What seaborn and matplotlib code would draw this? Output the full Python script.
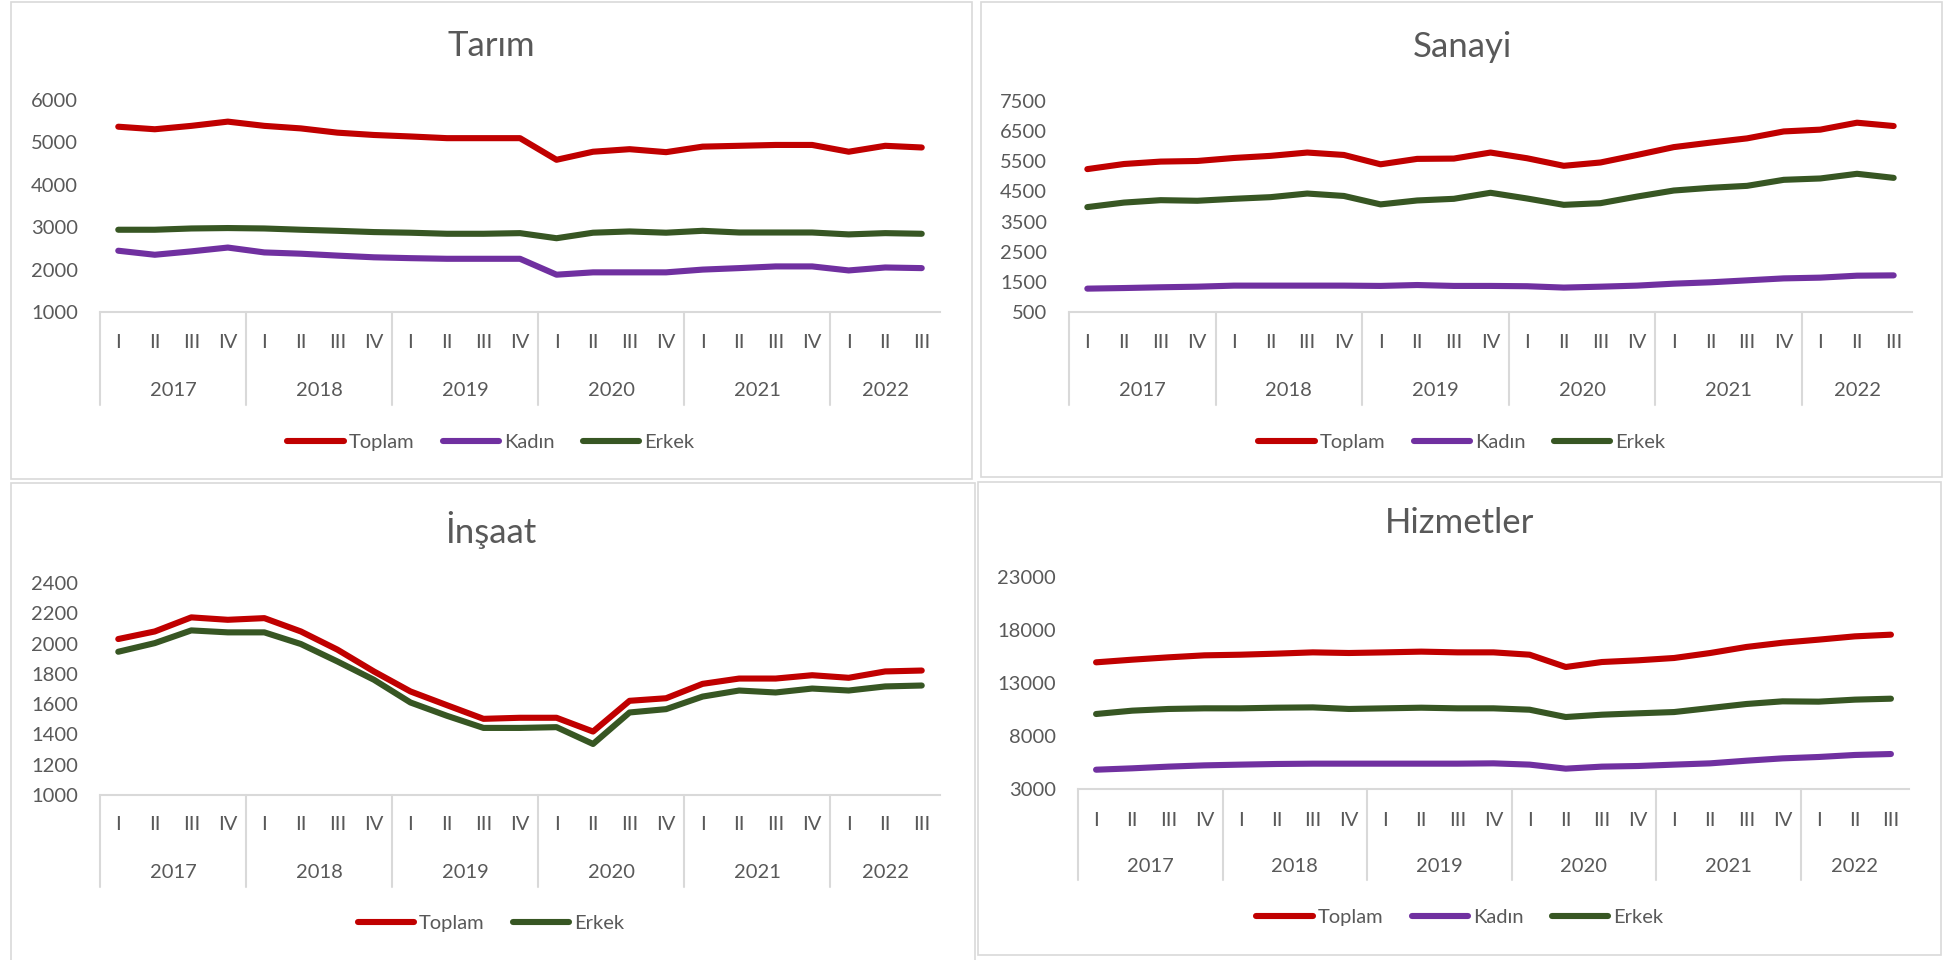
import numpy as np
import pandas as pd
import matplotlib
matplotlib.use("Agg")
import matplotlib.pyplot as plt
import matplotlib.transforms as mtransforms
from matplotlib.patches import Rectangle
import seaborn as sns

# ceyrekler ve yillar
ceyrek = ["I", "II", "III", "IV"] * 5 + ["I", "II", "III"]
yillar = ["2017", "2018", "2019", "2020", "2021", "2022"]

# Tarim
tarim_toplam = [5370, 5310, 5390, 5490, 5390, 5330, 5230, 5175, 5140, 5100, 5100, 5100,
                4590, 4780, 4840, 4770, 4900, 4920, 4940, 4940, 4780, 4920, 4880]
tarim_kadin = [2445, 2350, 2430, 2520, 2405, 2375, 2330, 2290, 2270, 2255, 2255, 2255,
               1880, 1935, 1935, 1935, 2000, 2035, 2075, 2075, 1980, 2050, 2035]
tarim_erkek = [2940, 2940, 2970, 2980, 2970, 2940, 2915, 2885, 2870, 2845, 2845, 2860,
               2740, 2870, 2900, 2870, 2915, 2875, 2875, 2875, 2830, 2860, 2845]

# Sanayi
sanayi_toplam = [5240, 5410, 5490, 5510, 5610, 5680, 5790, 5710, 5400, 5580, 5590, 5790,
                 5600, 5350, 5460, 5710, 5970, 6120, 6260, 6490, 6550, 6780, 6670]
sanayi_kadin = [1275, 1295, 1320, 1340, 1375, 1375, 1375, 1375, 1365, 1395, 1365, 1365,
                1355, 1310, 1340, 1375, 1440, 1485, 1550, 1615, 1640, 1705, 1715]
sanayi_erkek = [3980, 4130, 4210, 4190, 4255, 4310, 4430, 4350, 4070, 4200, 4255, 4455,
                4265, 4055, 4110, 4330, 4530, 4620, 4685, 4885, 4930, 5085, 4950]

# Insaat
insaat_toplam = [2030, 2080, 2173, 2157, 2168, 2080, 1960, 1816, 1684, 1593, 1503, 1510,
                 1510, 1419, 1622, 1639, 1734, 1769, 1769, 1791, 1774, 1816, 1822]
insaat_erkek = [1946, 2003, 2087, 2074, 2074, 1997, 1882, 1761, 1611, 1523, 1443, 1443,
                1448, 1337, 1545, 1567, 1650, 1690, 1677, 1703, 1690, 1717, 1723]

# Hizmetler
hizmet_toplam = [14950, 15200, 15420, 15610, 15670, 15770, 15890, 15830, 15890, 15960, 15890, 15890,
                 15670, 14510, 14980, 15140, 15360, 15830, 16400, 16800, 17090, 17400, 17560]
hizmet_kadin = [4820, 4950, 5110, 5230, 5300, 5360, 5390, 5390, 5390, 5390, 5390, 5420,
                5300, 4920, 5110, 5170, 5300, 5420, 5670, 5890, 6020, 6210, 6300]
hizmet_erkek = [10075, 10390, 10550, 10610, 10610, 10670, 10700, 10550, 10610, 10670, 10610, 10610,
                10480, 9790, 10010, 10140, 10260, 10640, 11020, 11270, 11240, 11430, 11520]

renkler = {"Toplam": "#C00000", "Kadın": "#7030A0", "Erkek": "#375623"}
gri = "#595959"
cizgi_gri = "#D9D9D9"

sns.set_theme(style="white")
plt.rcParams["font.family"] = ["Lato", "DejaVu Sans"]

W, H = 1953, 960
fig = plt.figure(figsize=(W / 100, H / 100), dpi=100)

# panel: baslik, seriler, eksen, piksel konumlari
paneller = [
    dict(baslik="Tarım", seriler={"Toplam": tarim_toplam, "Kadın": tarim_kadin, "Erkek": tarim_erkek},
         yt=np.arange(1000, 6001, 1000), kutu=(11, 2, 972, 479), x0=100, x1=940, ust=100, alt=312,
         qy=342, yy=390, ay=405, ly=442, ty=46, cx=491),
    dict(baslik="Sanayi", seriler={"Toplam": sanayi_toplam, "Kadın": sanayi_kadin, "Erkek": sanayi_erkek},
         yt=np.arange(500, 7501, 1000), kutu=(981, 2, 1942, 477), x0=1069, x1=1912, ust=101, alt=312,
         qy=342, yy=390, ay=405, ly=442, ty=47, cx=1462),
    dict(baslik="İnşaat", seriler={"Toplam": insaat_toplam, "Erkek": insaat_erkek},
         yt=np.arange(1000, 2401, 200), kutu=(11, 483, 975, 962), x0=100, x1=940, ust=583, alt=795,
         qy=825, yy=873, ay=887, ly=923, ty=530, cx=491),
    dict(baslik="Hizmetler", seriler={"Toplam": hizmet_toplam, "Kadın": hizmet_kadin, "Erkek": hizmet_erkek},
         yt=np.arange(3000, 23001, 5000), kutu=(978, 482, 1941, 955), x0=1078, x1=1909, ust=577, alt=789,
         qy=820, yy=866, ay=880, ly=917, ty=523, cx=1460),
]

for p in paneller:
    # cerceve
    kx0, ky0, kx1, ky1 = p["kutu"]
    fig.patches.append(Rectangle((kx0 / W, 1 - ky1 / H), (kx1 - kx0) / W, (ky1 - ky0) / H,
                                 transform=fig.transFigure, fill=False, edgecolor=cizgi_gri,
                                 linewidth=1.2, zorder=0))
    ax = fig.add_axes([p["x0"] / W, 1 - p["alt"] / H, (p["x1"] - p["x0"]) / W, (p["alt"] - p["ust"]) / H])
    ax.patch.set_alpha(0)

    df = pd.DataFrame([(i, ad, v) for ad, vals in p["seriler"].items() for i, v in enumerate(vals)],
                      columns=["x", "seri", "deger"])
    sns.lineplot(data=df, x="x", y="deger", hue="seri", palette=renkler, linewidth=4.4,
                 solid_capstyle="round", solid_joinstyle="round", ax=ax, clip_on=False)

    ax.set_xlim(-0.5, len(ceyrek) - 0.5)
    ax.set_ylim(p["yt"][0], p["yt"][-1])
    ax.set_yticks(p["yt"])
    ax.set_yticklabels([str(v) for v in p["yt"]], color=gri, fontsize=14.5)
    ax.tick_params(axis="y", length=0, pad=16)
    ax.set_xticks([])
    ax.set_xlabel("")
    ax.set_ylabel("")
    for s in ["top", "right", "left"]:
        ax.spines[s].set_visible(False)
    ax.spines["bottom"].set_color(cizgi_gri)
    ax.spines["bottom"].set_linewidth(1.5)

    h = p["alt"] - p["ust"]
    def fy(ypix):
        return (p["alt"] - ypix) / h
    tr = mtransforms.blended_transform_factory(ax.transData, ax.transAxes)

    # ceyrek etiketleri
    for i, q in enumerate(ceyrek):
        ax.text(i, fy(p["qy"]), q, transform=tr, ha="center", va="center", color=gri, fontsize=14.5)
    # yil etiketleri ve ayirici cizgiler
    for k, yil in enumerate(yillar):
        bas = 4 * k
        son = min(4 * k + 3, len(ceyrek) - 1)
        ax.text((bas + son) / 2, fy(p["yy"]), yil, transform=tr, ha="center", va="center",
                color=gri, fontsize=14.5)
        ax.plot([bas - 0.5, bas - 0.5], [0, fy(p["ay"])], transform=tr, color=cizgi_gri,
                linewidth=1.5, clip_on=False)

    # baslik
    fig.text(p["cx"] / W, 1 - p["ty"] / H, p["baslik"], ha="center", va="center",
             color=gri, fontsize=25)

    # lejant
    hnd, lab = ax.get_legend_handles_labels()
    ax.legend(hnd, lab, loc="center", bbox_to_anchor=(p["cx"] / W, 1 - p["ly"] / H),
              bbox_transform=fig.transFigure, ncol=len(lab), frameon=False, fontsize=14.5,
              handlelength=2.8, handletextpad=0.25, columnspacing=1.4, labelcolor=gri)

fig.savefig("out.png", dpi=100)
